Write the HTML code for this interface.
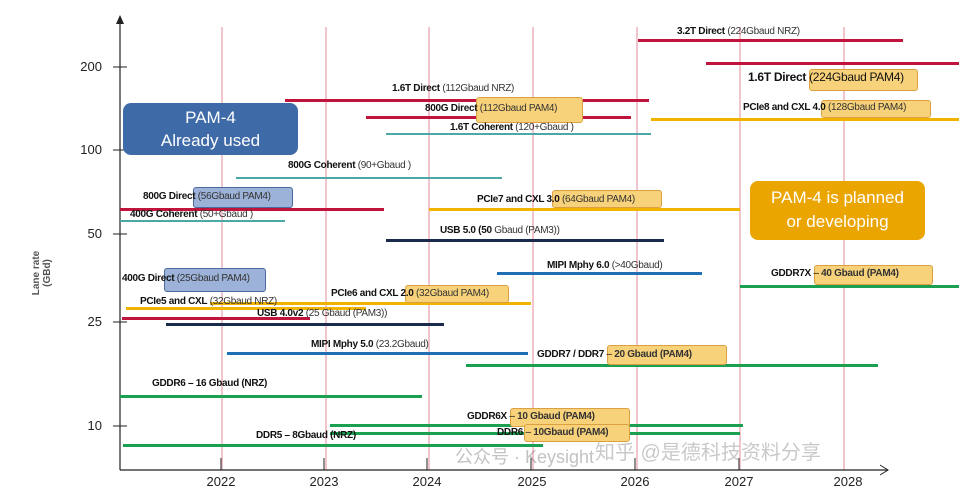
<!DOCTYPE html>
<html><head><meta charset="utf-8"><style>
body{margin:0;width:959px;height:493px;background:#fff;position:relative;overflow:hidden;font-family:"Liberation Sans","Noto Sans CJK SC",sans-serif}
.l{position:absolute;height:3px}
.t{position:absolute;font-size:10px;white-space:nowrap;color:#111;letter-spacing:-0.3px;line-height:12px}
.t b{font-weight:bold}
.t span{color:#333}
.o{position:absolute;background:#f8d27a;border:1px solid #dca040;border-radius:3px}
.bl{position:absolute;background:#9db2d8;border:1px solid #4a6aa0;border-radius:3px}
.v{position:absolute;width:2px;top:27px;height:443px;background:#f2c4cc}
.yl{position:absolute;font-size:13px;color:#222;left:70px;width:32px;text-align:right}
.xl{position:absolute;font-size:13px;color:#222;top:474px;width:40px;text-align:center}
.r{background:#c0143c}.c{background:#4aa8a8}.y{background:#f0b400}.n{background:#1a2a4a}.b{background:#1f6fb5}.g{background:#1aa050}
</style></head><body>
<div class="v" style="left:221px"></div><div class="v" style="left:325px"></div><div class="v" style="left:428px"></div><div class="v" style="left:532px"></div><div class="v" style="left:636px"></div><div class="v" style="left:739px"></div><div class="v" style="left:843px"></div>
<svg style="position:absolute;left:0;top:0" width="959" height="493">
<line x1="120" y1="22" x2="120" y2="470" stroke="#222" stroke-width="1.2"/>
<polygon points="120,15 116,24 124,24" fill="#222"/>
<line x1="120" y1="470" x2="888" y2="470" stroke="#222" stroke-width="1.2"/>
<polyline points="880,465 888,470 880,475" fill="none" stroke="#222"/>
<g stroke="#222"><line x1="113" y1="67" x2="127" y2="67"/><line x1="113" y1="150" x2="127" y2="150"/><line x1="113" y1="234" x2="127" y2="234"/><line x1="113" y1="322" x2="127" y2="322"/><line x1="113" y1="426" x2="127" y2="426"/>
<line x1="221" y1="458" x2="221" y2="470"/><line x1="324" y1="458" x2="324" y2="470"/><line x1="427" y1="458" x2="427" y2="470"/><line x1="531" y1="458" x2="531" y2="470"/><line x1="635" y1="458" x2="635" y2="470"/><line x1="739" y1="458" x2="739" y2="470"/></g>
</svg>
<div class="yl" style="top:59px">200</div><div class="yl" style="top:142px">100</div><div class="yl" style="top:226px">50</div><div class="yl" style="top:314px">25</div><div class="yl" style="top:418px">10</div>
<div class="xl" style="left:201px">2022</div><div class="xl" style="left:304px">2023</div><div class="xl" style="left:407px">2024</div><div class="xl" style="left:512px">2025</div><div class="xl" style="left:615px">2026</div><div class="xl" style="left:719px">2027</div><div class="xl" style="left:828px">2028</div>
<div style="position:absolute;left:2px;top:262px;transform:rotate(-90deg);font-size:10px;font-weight:bold;color:#555;text-align:center;line-height:11px;width:80px">Lane rate<br>(GBd)</div>

<div class="l r" style="left:638px;width:265px;top:39px"></div>
<div class="l r" style="left:706px;width:253px;top:62px"></div>
<div class="l r" style="left:285px;width:364px;top:99px"></div>
<div class="l r" style="left:366px;width:265px;top:116px"></div>
<div class="l c" style="left:386px;width:265px;top:133px;height:2px"></div>
<div class="l y" style="left:651px;width:308px;top:118px"></div>
<div class="l c" style="left:236px;width:266px;top:177px;height:2px"></div>
<div class="l r" style="left:120px;width:264px;top:208px"></div>
<div class="l c" style="left:120px;width:165px;top:220px;height:2px"></div>
<div class="l y" style="left:429px;width:311px;top:208px"></div>
<div class="l n" style="left:386px;width:278px;top:239px"></div>
<div class="l b" style="left:497px;width:205px;top:272px"></div>
<div class="l g" style="left:740px;width:219px;top:285px"></div>
<div class="l y" style="left:210px;width:321px;top:302px"></div>
<div class="l y" style="left:126px;width:240px;top:307px"></div>
<div class="l r" style="left:122px;width:188px;top:317px"></div>
<div class="l n" style="left:166px;width:278px;top:323px"></div>
<div class="l b" style="left:227px;width:301px;top:352px"></div>
<div class="l g" style="left:466px;width:412px;top:364px"></div>
<div class="l g" style="left:120px;width:302px;top:395px"></div>
<div class="l g" style="left:330px;width:413px;top:424px"></div>
<div class="l g" style="left:330px;width:410px;top:432px"></div>
<div class="l g" style="left:123px;width:420px;top:444px"></div>

<div class="o" style="left:476px;top:97px;width:105px;height:24px"></div>
<div class="o" style="left:809px;top:69px;width:107px;height:20px"></div>
<div class="o" style="left:821px;top:100px;width:108px;height:16px"></div>
<div class="o" style="left:552px;top:190px;width:108px;height:16px"></div>
<div class="o" style="left:405px;top:285px;width:102px;height:16px"></div>
<div class="o" style="left:814px;top:265px;width:117px;height:18px"></div>
<div class="o" style="left:607px;top:345px;width:118px;height:18px"></div>
<div class="o" style="left:510px;top:408px;width:118px;height:17px"></div>
<div class="o" style="left:524px;top:424px;width:104px;height:16px"></div>
<div class="bl" style="left:193px;top:187px;width:98px;height:19px"></div>
<div class="bl" style="left:164px;top:268px;width:100px;height:22px"></div>

<div style="position:absolute;left:123px;top:103px;width:175px;height:52px;background:#3f6aa8;border-radius:8px;color:#fff;font-size:17px;text-align:center;line-height:23px;padding-top:3px;box-sizing:border-box">PAM-4<br>Already used</div>
<div style="position:absolute;left:750px;top:181px;width:175px;height:59px;background:#eba500;border-radius:8px;color:#fff;font-size:17px;text-align:center;line-height:24px;padding-top:5px;box-sizing:border-box">PAM-4 is planned<br>or developing</div>

<div class="t" style="left:677px;top:26px"><b>3.2T Direct</b> <span>(224Gbaud NRZ)</span></div>
<div class="t" style="left:748px;top:71px;font-size:12px"><b>1.6T Direct</b> (224Gbaud PAM4)</div>
<div class="t" style="left:392px;top:83px"><b>1.6T Direct</b> <span>(112Gbaud NRZ)</span></div>
<div class="t" style="left:425px;top:103px"><b>800G Direct</b> <span>(112Gbaud PAM4)</span></div>
<div class="t" style="left:450px;top:122px"><b>1.6T Coherent</b> <span>(120+Gbaud )</span></div>
<div class="t" style="left:743px;top:102px"><b>PCIe8 and CXL 4.0</b> <span>(128Gbaud PAM4)</span></div>
<div class="t" style="left:288px;top:160px"><b>800G Coherent</b> <span>(90+Gbaud )</span></div>
<div class="t" style="left:143px;top:191px"><b>800G Direct</b> <span>(56Gbaud PAM4)</span></div>
<div class="t" style="left:130px;top:209px"><b>400G Coherent</b> <span>(50+Gbaud )</span></div>
<div class="t" style="left:477px;top:194px"><b>PCIe7 and CXL 3.0</b> <span>(64Gbaud PAM4)</span></div>
<div class="t" style="left:440px;top:225px"><b>USB 5.0 (50</b> <span>Gbaud (PAM3))</span></div>
<div class="t" style="left:547px;top:260px"><b>MIPI Mphy 6.0</b> <span>(&gt;40Gbaud)</span></div>
<div class="t" style="left:771px;top:268px"><b>GDDR7X</b> – <b style="color:#333">40 Gbaud (PAM4)</b></div>
<div class="t" style="left:122px;top:273px"><b>400G Direct</b> <span>(25Gbaud PAM4)</span></div>
<div class="t" style="left:331px;top:288px"><b>PCIe6 and CXL 2.0</b> <span>(32Gbaud PAM4)</span></div>
<div class="t" style="left:140px;top:296px"><b>PCIe5 and CXL</b> <span>(32Gbaud NRZ)</span></div>
<div class="t" style="left:257px;top:308px"><b>USB 4.0v2</b> <span>(25 Gbaud (PAM3))</span></div>
<div class="t" style="left:311px;top:339px"><b>MIPI Mphy 5.0</b> <span>(23.2Gbaud)</span></div>
<div class="t" style="left:537px;top:349px"><b>GDDR7 / DDR7</b> – <b style="color:#333">20 Gbaud (PAM4)</b></div>
<div class="t" style="left:152px;top:378px"><b>GDDR6 – 16 Gbaud (NRZ)</b></div>
<div class="t" style="left:467px;top:411px"><b>GDDR6X</b> – <b style="color:#333">10 Gbaud (PAM4)</b></div>
<div class="t" style="left:497px;top:427px"><b>DDR6</b> – <b style="color:#333">10Gbaud (PAM4)</b></div>
<div class="t" style="left:256px;top:430px"><b>DDR5 – 8Gbaud (NRZ)</b></div>

<div style="position:absolute;left:455px;top:443px;font-size:18px;color:rgba(120,120,120,0.45);white-space:nowrap">公众号 · Keysight</div>
<div style="position:absolute;left:595px;top:436px;font-size:20px;color:rgba(120,120,120,0.4);white-space:nowrap">知乎 @是德科技资料分享</div>
</body></html>
